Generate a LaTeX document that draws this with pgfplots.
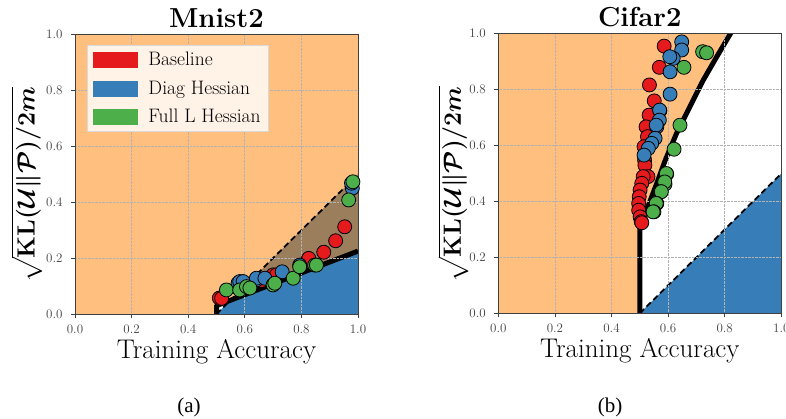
\documentclass[border=0pt]{standalone}
\usepackage{fontspec}
\usepackage{amsmath}
\usepackage{pgfplots}
\pgfplotsset{compat=1.18}
\newfontfamily\capfont{Liberation Serif}

\definecolor{cRed}{HTML}{E41A1C}
\definecolor{cBlue}{HTML}{377EB8}
\definecolor{cGreen}{HTML}{4DAF4A}
\definecolor{cOrange}{HTML}{FF7F00}
\definecolor{legfill}{RGB}{255,242,231}

\pgfplotsset{
  panel/.style={
    axis on top,
    scale only axis,
    width=283pt, height=279.5pt,
    xmin=0, xmax=1, ymin=0, ymax=1,
    xtick={0,0.2,0.4,0.6,0.8,1}, ytick={0,0.2,0.4,0.6,0.8,1},
    xticklabels={0.0,0.2,0.4,0.6,0.8,1.0},
    yticklabels={0.0,0.2,0.4,0.6,0.8,1.0},
    tick align=outside, major tick length=4pt,
    xtick pos=bottom, ytick pos=left,
    tick style={black!75, line width=0.8pt},
    axis line style={black!75, line width=0.9pt},
    tick label style={font=\fontsize{13}{15}\selectfont, text=black!75},
    xticklabel style={yshift=-3pt},
    yticklabel style={xshift=-5pt},
    grid=major,
    grid style={densely dotted, black!30, line width=0.7pt},
    title style={font=\bfseries\fontsize{27.5}{33}\selectfont, yshift=-3pt},
    xlabel={Training Accuracy},
    xlabel style={font=\fontsize{27}{32}\selectfont, yshift=1pt},
    ylabel={$\boldsymbol{\sqrt{\mathbf{KL}(\mathcal{U}\Vert\mathcal{P})/2m}}$},
    ylabel style={font=\fontsize{25.5}{30}\selectfont, anchor=center},
  },
}

\begin{document}
\begin{tikzpicture}
\path[use as bounding box] (0,0) rectangle (786pt,419pt);

% ---------------- Mnist2 ----------------
\begin{axis}[panel, at={(75pt,105pt)}, anchor=south west,
  title={Mnist2},
  ylabel style={at={(axis description cs:-0.170,0.4615)}},
  legend cell align=left,
  legend style={at={(0.042,0.962)}, anchor=north west, fill=legfill, draw=black!15,
    font=\fontsize{19.5}{23}\selectfont, row sep=9.5pt, inner xsep=6pt, inner ysep=5pt},
]
\addplot[fill=cBlue, draw=none, forget plot] coordinates {(0.5,0) (1,0.5) (1,0) (0.5,0)};
\addplot[fill=cOrange, fill opacity=0.5, draw=none, forget plot] coordinates {(0,0) (0.5,0) (0.5,0.03) (1,0.225) (1,1) (0,1) (0,0)};

\addplot[only marks, mark=*, mark size=7pt, mark options={fill=cRed, draw=black, line width=0.8pt},
  legend image code/.code={\fill[cRed] (0pt,-7.5pt) rectangle (44pt,7.5pt);}] coordinates {
(0.510,0.057)(0.518,0.056)(0.580,0.090)(0.660,0.120)(0.700,0.140)(0.712,0.140)
(0.823,0.193)(0.826,0.199)(0.879,0.221)(0.921,0.262)(0.953,0.312)};
\addlegendentry{\hspace{9pt}Baseline}
\addplot[only marks, mark=*, mark size=7pt, mark options={fill=cBlue, draw=black, line width=0.8pt},
  legend image code/.code={\fill[cBlue] (0pt,-7.5pt) rectangle (44pt,7.5pt);}] coordinates {
(0.576,0.110)(0.582,0.116)(0.594,0.116)(0.641,0.122)(0.641,0.128)(0.671,0.128)
(0.732,0.151)(0.794,0.175)(0.980,0.450)(0.977,0.468)};
\addlegendentry{\hspace{9pt}Diag Hessian}
\addplot[only marks, mark=*, mark size=7pt, mark options={fill=cGreen, draw=black, line width=0.8pt},
  legend image code/.code={\fill[cGreen] (0pt,-7.5pt) rectangle (44pt,7.5pt);}] coordinates {
(0.535,0.086)(0.582,0.086)(0.606,0.098)(0.618,0.093)(0.700,0.104)(0.706,0.110)
(0.771,0.128)(0.794,0.169)(0.847,0.175)(0.853,0.175)(0.967,0.408)(0.982,0.473)};
\addlegendentry{\hspace{9pt}Full L Hessian}

\addplot[black, line width=1.8pt, dash pattern=on 6pt off 3.5pt, forget plot] coordinates {(0.5,0) (1,0.5)};
\addplot[black, line width=5pt, line join=round, forget plot] coordinates {(0.5,-0.05) (0.5,0.03) (1,0.225)};
\end{axis}

% ---------------- Cifar2 ----------------
\begin{axis}[panel, at={(498.3pt,105.7pt)}, anchor=south west,
  title={Cifar2},
  ylabel style={at={(axis description cs:-0.16,0.4615)}},
]
\addplot[fill=cBlue, draw=none] coordinates {(0.5,0) (1,0.5) (1,0) (0.5,0)};
\addplot[fill=cOrange, fill opacity=0.5, draw=none] coordinates {(0,0) (0.5,0) (0.5,0.30) (0.505,0.33) (0.515,0.355)
  (0.53,0.385) (0.56,0.465) (0.59,0.548) (0.63,0.644) (0.677,0.739) (0.724,0.834) (0.772,0.918) (0.82,1) (0,1) (0,0)};

\addplot[only marks, mark=*, mark size=7pt, mark options={fill=cRed, draw=black, line width=0.8pt}] coordinates {
(0.586,0.956)(0.569,0.880)(0.534,0.817)(0.551,0.760)(0.533,0.709)(0.522,0.667)
(0.527,0.632)(0.515,0.596)(0.517,0.548)(0.518,0.530)(0.529,0.489)(0.512,0.489)
(0.507,0.465)(0.501,0.441)(0.498,0.417)(0.496,0.393)(0.496,0.369)(0.501,0.345)
(0.505,0.328)(0.507,0.324)};
\addplot[only marks, mark=*, mark size=7pt, mark options={fill=cBlue, draw=black, line width=0.8pt}] coordinates {
(0.648,0.971)(0.648,0.942)(0.618,0.912)(0.606,0.918)(0.607,0.864)(0.607,0.784)
(0.571,0.725)(0.570,0.727)(0.569,0.691)(0.560,0.667)(0.558,0.673)(0.554,0.626)
(0.542,0.608)(0.530,0.590)(0.515,0.566)};
\addplot[only marks, mark=*, mark size=7pt, mark options={fill=cGreen, draw=black, line width=0.8pt}] coordinates {
(0.722,0.936)(0.736,0.932)(0.656,0.880)(0.642,0.673)(0.621,0.587)(0.595,0.498)
(0.594,0.500)(0.589,0.462)(0.588,0.470)(0.574,0.435)(0.576,0.435)(0.560,0.393)
(0.558,0.393)(0.550,0.363)(0.547,0.363)};

\addplot[black, line width=1.8pt, dash pattern=on 6pt off 3.5pt] coordinates {(0.5,0) (1,0.5)};
\addplot[black, line width=5pt, line join=round] coordinates {(0.5,-0.05) (0.5,0.30) (0.505,0.33) (0.515,0.355)
  (0.53,0.385) (0.56,0.465) (0.59,0.548) (0.63,0.644) (0.677,0.739) (0.724,0.834) (0.772,0.918) (0.82,1) (0.84,1.03)};
\end{axis}

\node[font=\capfont\fontsize{21}{25}\selectfont, anchor=base] at (189pt,6.5pt) {(a)};
\node[font=\capfont\fontsize{21}{25}\selectfont, anchor=base] at (610pt,6.5pt) {(b)};
\end{tikzpicture}
\end{document}
